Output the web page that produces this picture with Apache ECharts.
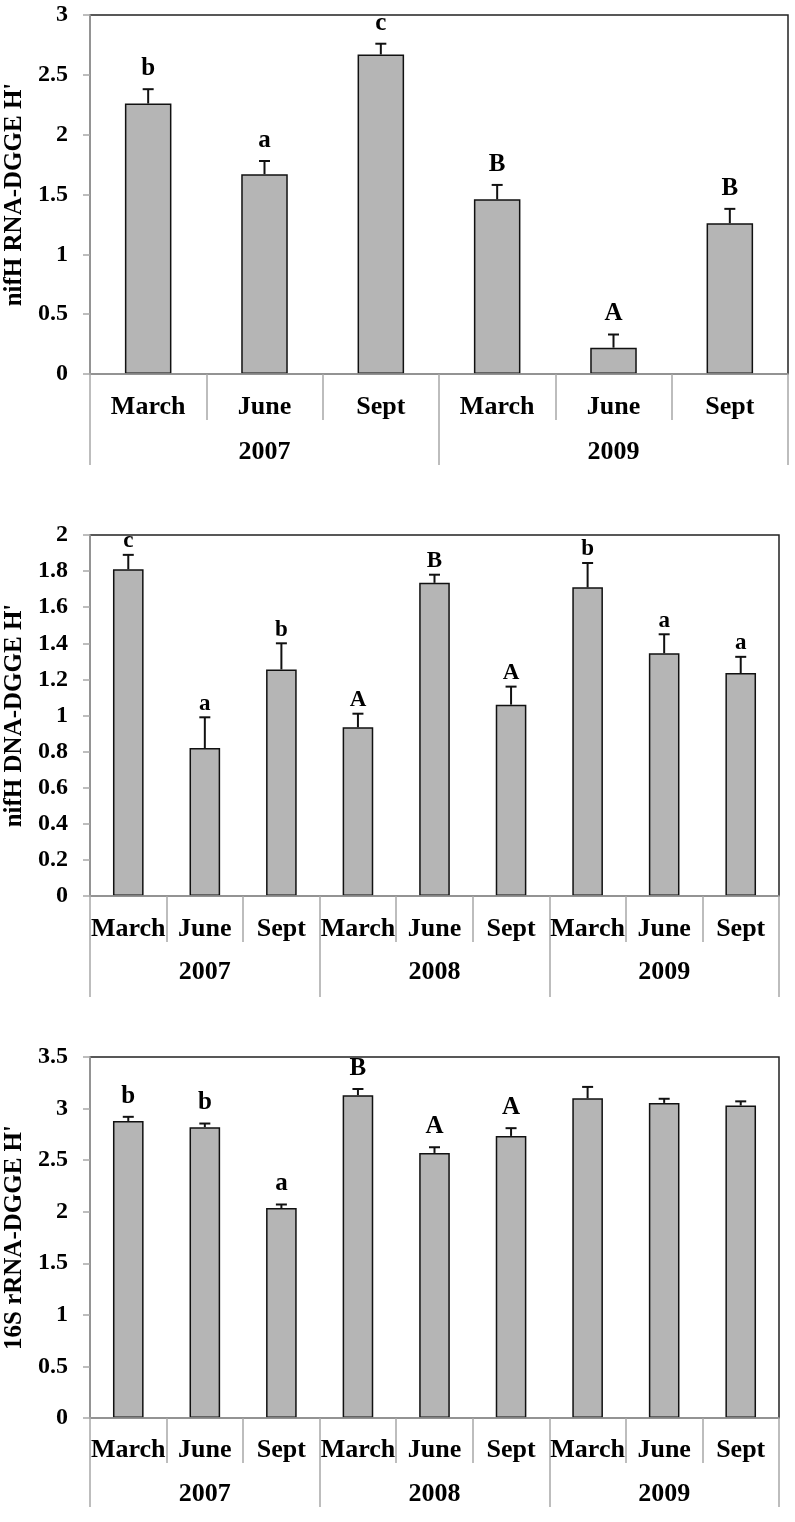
<!DOCTYPE html>
<html>
<head>
<meta charset="utf-8">
<script src="https://cdn.jsdelivr.net/npm/echarts@6/dist/echarts.min.js"></script>
<style>
html,body{margin:0;padding:0;background:#fff;}
#chart{width:795px;height:1522px;}
</style>
</head>
<body>
<div id="chart"></div>
<script>
// ---- Data ----
const months6 = ['March','June','Sept','March','June','Sept'];
const years1 = ['2007','2009'];
const rnaValues = [2.26, 1.67, 2.67, 1.46, 0.22, 1.26];
const rnaErrors = [0.12, 0.11, 0.09, 0.12, 0.11, 0.12];
const rnaLetters = ['b','a','c','B','A','B'];

const months9 = ['March','June','Sept','March','June','Sept','March','June','Sept'];
const years3 = ['2007','2008','2009'];
const dnaValues = [1.81, 0.82, 1.255, 0.935, 1.735, 1.06, 1.71, 1.345, 1.235];
const dnaErrors = [0.08, 0.17, 0.145, 0.075, 0.045, 0.10, 0.135, 0.105, 0.09];
const dnaLetters = ['c','a','b','A','B','A','b','a','a'];

const s16Values = [2.88, 2.82, 2.035, 3.13, 2.57, 2.735, 3.10, 3.055, 3.03];
const s16Errors = [0.04, 0.035, 0.035, 0.06, 0.055, 0.075, 0.11, 0.04, 0.04];
const s16Letters = ['b','b','a','B','A','A','','',''];

const yNames = ["nifH RNA-DGGE H'", "nifH DNA-DGGE H'", "16S rRNA-DGGE H'"];
const yMax = [3, 2, 3.5];
const yInterval = [0.5, 0.2, 0.5];

// ---- Styles ----
const FONT = '"Liberation Serif", "Times New Roman", serif';
const GRAY = '#a8a8a8';
const panels = [
  {months: months6, years: years1, values: rnaValues, errors: rnaErrors, letters: rnaLetters,
   grid: {left: 90, top: 15, width: 698, height: 359}, monthTick: 46, yearTick: 91, monthMargin: 20, yearMargin: 65, letterGap: 8, letterSize: 25},
  {months: months9, years: years3, values: dnaValues, errors: dnaErrors, letters: dnaLetters,
   grid: {left: 90, top: 535, width: 689, height: 361}, monthTick: 46, yearTick: 101, monthMargin: 20, yearMargin: 63, letterGap: 2, letterSize: 23},
  {months: months9, years: years3, values: s16Values, errors: s16Errors, letters: s16Letters,
   grid: {left: 90, top: 1057, width: 689, height: 361}, monthTick: 45, yearTick: 89, monthMargin: 19, yearMargin: 63, letterGap: 8, letterSize: 25}
];

const grid = [], xAxis = [], yAxis = [], series = [];
panels.forEach((p, k) => {
  grid.push(Object.assign({show: true, borderColor: '#222', borderWidth: 1.5, backgroundColor: 'transparent',
    containLabel: false, outerBoundsMode: 'none'}, p.grid));
  xAxis.push({
    type: 'category', gridIndex: k, data: p.months, position: 'bottom',
    axisLine: {show: true, lineStyle: {color: GRAY, width: 1.5}},
    axisTick: {show: true, interval: 0, length: p.monthTick, lineStyle: {color: GRAY, width: 1.5}},
    axisLabel: {interval: 0, margin: p.monthMargin, color: '#000', fontFamily: FONT, fontWeight: 'bold', fontSize: 26},
    z: 5
  });
  xAxis.push({
    type: 'category', gridIndex: k, data: p.years, position: 'bottom', offset: 0,
    axisLine: {show: false},
    axisTick: {show: true, interval: 0, length: p.yearTick, lineStyle: {color: GRAY, width: 1.5}},
    axisLabel: {interval: 0, margin: p.yearMargin, color: '#000', fontFamily: FONT, fontWeight: 'bold', fontSize: 26},
    z: 5
  });
  yAxis.push({
    type: 'value', gridIndex: k, min: 0, max: yMax[k], interval: yInterval[k],
    name: yNames[k], nameLocation: 'middle', nameRotate: 90, nameGap: 61,
    nameTextStyle: {color: '#000', fontFamily: FONT, fontWeight: 'bold', fontSize: 25},
    splitLine: {show: false},
    axisLine: {show: true, lineStyle: {color: GRAY, width: 1.5}},
    axisTick: {show: true, length: 7, lineStyle: {color: GRAY, width: 1.5}},
    axisLabel: {margin: 22, color: '#000', fontFamily: FONT, fontWeight: 'bold', fontSize: 24},
    z: 5
  });
  series.push({
    type: 'bar', xAxisIndex: 2 * k, yAxisIndex: k, data: p.values, barWidth: '40%',
    itemStyle: {color: '#b5b5b5', borderColor: '#111', borderWidth: 1.5},
    silent: true, animation: false, z: 2
  });
  const letters = p.letters, gap = p.letterGap, lsize = p.letterSize;
  series.push({
    type: 'custom', xAxisIndex: 2 * k, yAxisIndex: k, animation: false, silent: true, z: 3,
    data: p.values.map((v, i) => [i, v, v + p.errors[i]]),
    encode: {x: 0, y: [1, 2]},
    renderItem: function (params, api) {
      const i = api.value(0);
      const base = api.coord([i, api.value(1)]);
      const top = api.coord([i, api.value(2)]);
      const cap = 5.5;
      const children = [
        {type: 'line', shape: {x1: base[0], y1: base[1], x2: top[0], y2: top[1]}, style: {stroke: '#111', lineWidth: 2}},
        {type: 'line', shape: {x1: top[0] - cap, y1: top[1], x2: top[0] + cap, y2: top[1]}, style: {stroke: '#111', lineWidth: 2}}
      ];
      const t = letters[params.dataIndex];
      if (t) {
        children.push({type: 'text', style: {text: t, x: top[0], y: top[1] - gap, align: 'center', verticalAlign: 'bottom',
          fill: '#000', font: 'bold ' + lsize + 'px ' + FONT}});
      }
      return {type: 'group', children: children};
    }
  });
});

const chart = echarts.init(document.getElementById('chart'), null, {renderer: 'canvas'});
chart.setOption({animation: false, grid, xAxis, yAxis, series});
</script>
</body>
</html>
